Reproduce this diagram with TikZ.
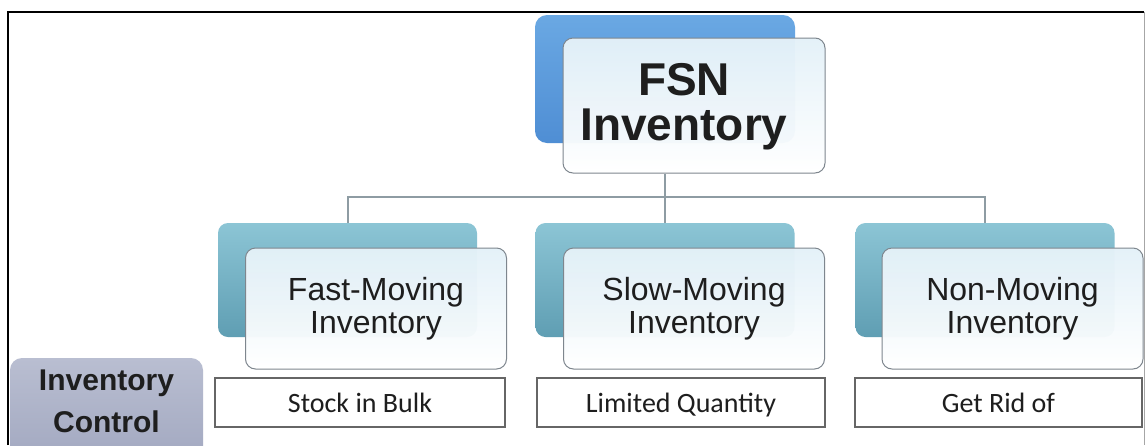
\documentclass[tikz,border=0pt]{standalone}
\usepackage{fontspec}
\setmainfont{Liberation Sans}
\newfontfamily\calib{Carlito}
\definecolor{fsnTop}{HTML}{6AA8E3}
\definecolor{fsnBot}{HTML}{4F8ED4}
\definecolor{tealTop}{HTML}{8CC5D5}
\definecolor{tealBot}{HTML}{5F9EB3}
\definecolor{wTop}{HTML}{E4F1F8}
\definecolor{wBorder}{HTML}{7E868E}
\definecolor{icTop}{HTML}{B9BED1}
\definecolor{icBot}{HTML}{A3A9C1}
\definecolor{connC}{HTML}{8E9CA3}
\definecolor{txt}{HTML}{1E1E1E}
\begin{document}
\begin{tikzpicture}[x=1pt,y=-1pt,
  fsnback/.style={rounded corners=12pt, top color=fsnTop, bottom color=fsnBot, inner sep=0pt, minimum width=260, minimum height=128},
  fsnfront/.style={rounded corners=10pt, draw=wBorder, line width=1pt, top color=wTop, bottom color=white, fill opacity=0.97, text opacity=1, inner sep=0pt, minimum width=262, minimum height=135},
  tealback/.style={rounded corners=10pt, top color=tealTop, bottom color=tealBot, inner sep=0pt, minimum width=259, minimum height=114},
  catfront/.style={rounded corners=10pt, draw=wBorder, line width=1pt, top color=wTop, bottom color=white, fill opacity=0.97, text opacity=1, inner sep=0pt, minimum width=261, minimum height=121, align=center, text=txt, font=\fontsize{32}{33}\selectfont},
  actbox/.style={draw=black!60, line width=1.2pt, fill=white, inner sep=0pt, minimum height=49, text height=20, text depth=0, text=txt, font=\calib\fontsize{28}{30}\selectfont},
  conn/.style={draw=connC, line width=2pt}
]
\useasboundingbox (0,0) rectangle (1146,445);
\fill[white] (0,0) rectangle (1146,445);

% frame
\draw[black, line width=2pt] (8,445) -- (8,12) -- (1144,12);
\draw[black!35, line width=1pt] (1144,12) -- (1144,445);

% top node
\node[fsnback] (fsnb) at (665,79) {};
\node[fsnfront] (fsnw) at (694,105.5) {};
\node[text=txt, font=\bfseries\fontsize{46}{45}\selectfont, align=center] (fsnt) at (684,107) {FSN\\Inventory};

% child back boxes
\node[tealback] (c1b) at (347.5,280) {};
\node[tealback] (c2b) at (665,280) {};
\node[tealback] (c3b) at (985,280) {};

% connectors
\coordinate (bus) at (665,197);
\draw[conn] (fsnb.center |- fsnw.south) -- (c2b.north);
\draw[conn] (c1b.north) -- (c1b.north |- bus) -- (c3b.north |- bus) -- (c3b.north);

% child front boxes
\node[catfront] (c1w) at (376,308.5) {Fast-Moving\\Inventory};
\node[catfront] (c2w) at (694,308.5) {Slow-Moving\\Inventory};
\node[catfront] (c3w) at (1012.5,308.5) {Non-Moving\\Inventory};

% action boxes
\node[actbox, minimum width=290] (a1) at (360,402.5) {Stock in Bulk};
\node[actbox, minimum width=288] (a2) at (681,402.5) {Limited Quantity};
\node[actbox, minimum width=287] (a3) at (998.5,402.5) {Get Rid of};

% inventory control
\node[rounded corners=12pt, top color=icTop, bottom color=icBot, inner sep=0pt, minimum width=193, minimum height=100] (icbox) at (106.5,408) {};
\node[text=txt, font=\bfseries\fontsize{30}{42}\selectfont, align=center] (ict) at (106.5,401) {Inventory\\Control};
\end{tikzpicture}
\end{document}
